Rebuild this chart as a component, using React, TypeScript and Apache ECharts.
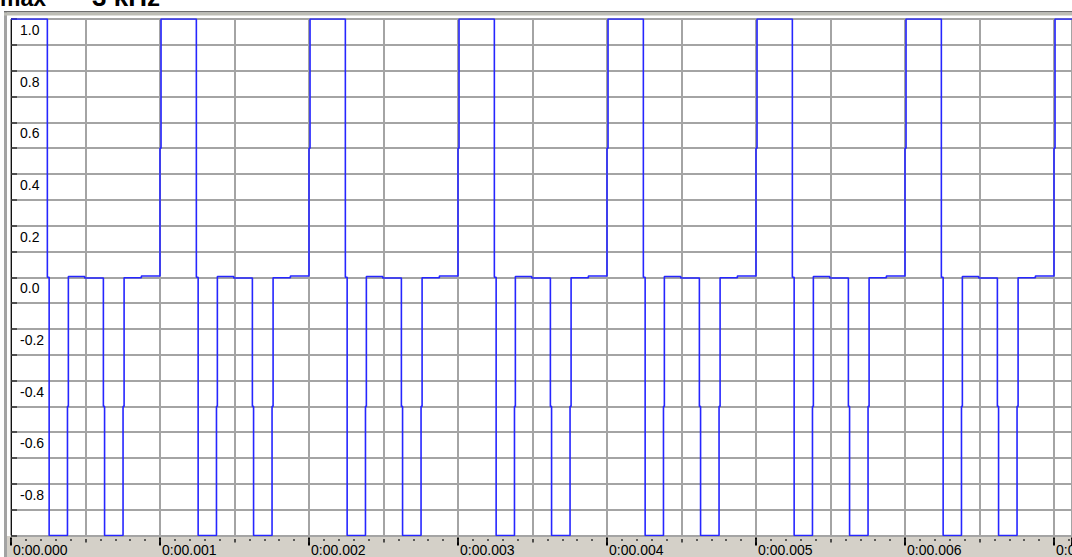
import React, { useEffect, useRef } from "react";
import * as echarts from "echarts";

// Change points of the sampled waveform: from each time (ms) on, the signal holds the level
const edgeTimesMs = [
  0.000, 0.244, 0.256, 0.379, 0.385, 0.495, 0.620, 0.628, 0.752, 0.759, 0.875,
  1.000, 1.007, 1.244, 1.256, 1.379, 1.385, 1.495, 1.620, 1.628, 1.752, 1.759, 1.875,
  2.000, 2.007, 2.244, 2.256, 2.379, 2.385, 2.495, 2.620, 2.628, 2.752, 2.759, 2.875,
  3.000, 3.007, 3.244, 3.256, 3.379, 3.385, 3.495, 3.620, 3.628, 3.752, 3.759, 3.875,
  4.000, 4.007, 4.244, 4.256, 4.379, 4.385, 4.495, 4.620, 4.628, 4.752, 4.759, 4.875,
  5.000, 5.007, 5.244, 5.256, 5.379, 5.385, 5.495, 5.620, 5.628, 5.752, 5.759, 5.875,
  6.000, 6.007, 6.244, 6.256, 6.379, 6.385, 6.495, 6.620, 6.628, 6.752, 6.759, 6.875,
  7.000, 7.007, 7.200,
];
const edgeLevels = [
  1, 0, -1, -0.5, 0.003, -0.003, -0.5, -1, -0.5, -0.002, 0.005,
  0.5, 1, 0, -1, -0.5, 0.003, -0.003, -0.5, -1, -0.5, -0.002, 0.005,
  0.5, 1, 0, -1, -0.5, 0.003, -0.003, -0.5, -1, -0.5, -0.002, 0.005,
  0.5, 1, 0, -1, -0.5, 0.003, -0.003, -0.5, -1, -0.5, -0.002, 0.005,
  0.5, 1, 0, -1, -0.5, 0.003, -0.003, -0.5, -1, -0.5, -0.002, 0.005,
  0.5, 1, 0, -1, -0.5, 0.003, -0.003, -0.5, -1, -0.5, -0.002, 0.005,
  0.5, 1, 0, -1, -0.5, 0.003, -0.003, -0.5, -1, -0.5, -0.002, 0.005,
  0.5, 1, 1,
];

const xTickValuesMs = [0, 1, 2, 3, 4, 5, 6, 7];
const xTickLabels = [
  "0:00.000", "0:00.001", "0:00.002", "0:00.003",
  "0:00.004", "0:00.005", "0:00.006", "0:00.007",
];
const yTickValues = [1.0, 0.8, 0.6, 0.4, 0.2, 0.0, -0.2, -0.4, -0.6, -0.8];
const yTickLabels = ["1.0", "0.8", "0.6", "0.4", "0.2", "0.0", "-0.2", "-0.4", "-0.6", "-0.8"];
const titleParts = ["max", "3 kHz"];

const FONT = "'Liberation Sans', Arial, sans-serif";

function lookup(v: number, values: number[], labels: string[]) {
  for (let i = 0; i < values.length; i++) {
    if (Math.abs(v - values[i]) < 1e-6) return labels[i];
  }
  return "";
}

export default function App() {
  const ref = useRef<HTMLDivElement>(null);

  useEffect(() => {
    if (!ref.current) return;
    const chart = echarts.init(ref.current, undefined, { renderer: "svg" });
    const data = edgeTimesMs.map((t, i) => [t, edgeLevels[i]]);
    const xMax = 1061 / 149;
    const grid = "#a4a4a4";

    chart.setOption({
      animation: false,
      backgroundColor: "#ffffff",
      grid: {
        left: 11,
        right: 0,
        top: 19,
        bottom: 21.5,
        containLabel: false,
        outerBoundsMode: "none",
      },
      xAxis: [
        {
          type: "value",
          min: 0,
          max: xMax,
          interval: 1,
          position: "bottom",
          offset: 2,
          axisLine: { show: false, onZero: false },
          axisTick: { show: true, length: 8, lineStyle: { color: "#000", width: 2 } },
          axisLabel: {
            show: true,
            formatter: (v: number) => lookup(v, xTickValuesMs, xTickLabels),
            align: "left",
            verticalAlign: "top",
            margin: 5.5,
            lineHeight: 14,
            padding: [0, 0, 0, 2],
            fontSize: 14,
            fontFamily: FONT,
            color: "#000",
          },
          splitLine: { show: false },
        },
        {
          type: "value",
          min: 0,
          max: xMax,
          interval: 0.5,
          position: "bottom",
          offset: 3.5,
          axisLine: { show: false, onZero: false },
          axisTick: { show: true, length: 3.5, lineStyle: { color: "#222", width: 1.5 } },
          minorTick: { show: true, splitNumber: 5, length: 2, lineStyle: { color: "#333", width: 1.5 } },
          axisLabel: { show: false },
          splitLine: { show: true, lineStyle: { color: grid, width: 2 } },
        },
      ],
      yAxis: {
        type: "value",
        min: -1,
        max: 1,
        interval: 0.1,
        position: "left",
        axisLine: { show: true, onZero: false, lineStyle: { color: "#000", type: "dotted", width: 1 } },
        axisTick: { show: true, inside: true, length: 6, lineStyle: { color: "#333", width: 1.5 } },
        axisLabel: {
          show: true,
          inside: true,
          showMinLabel: true,
          showMaxLabel: true,
          formatter: (v: number) => lookup(v, yTickValues, yTickLabels),
          margin: 9,
          verticalAlign: "top",
          lineHeight: 22,
          fontSize: 14,
          fontFamily: FONT,
          color: "#000",
        },
        splitLine: { show: true, lineStyle: { color: grid, width: 2 } },
      },
      graphic: [
        { type: "rect", z: -5, shape: { x: 7, y: 536, width: 1065, height: 21 }, style: { fill: "#d4d0c8" } },
        { type: "rect", z: -5, shape: { x: 4, y: 12, width: 3, height: 545 }, style: { fill: "#a3a3a3" } },
        { type: "rect", z: 5, shape: { x: 4, y: 11, width: 1068, height: 1.5 }, style: { fill: "#6e6e6e" } },
        { type: "rect", z: 5, shape: { x: 4, y: 12.5, width: 1068, height: 3 }, style: { fill: "#bdbdb5" } },
        {
          type: "text",
          z: 10,
          x: 0,
          y: -2,
          style: { text: titleParts[0], fontSize: 23, fontWeight: "bold", fontFamily: FONT, fill: "#000", verticalAlign: "middle" },
        },
        {
          type: "text",
          z: 10,
          x: 92,
          y: -3,
          style: { text: titleParts[1], fontSize: 26, fontWeight: "bold", fontFamily: FONT, fill: "#000", verticalAlign: "middle" },
        },
      ],
      series: [
        {
          type: "line",
          xAxisIndex: 0,
          yAxisIndex: 0,
          data,
          step: "end",
          showSymbol: false,
          symbol: "none",
          silent: true,
          z: 3,
          lineStyle: { color: "#2626ff", width: 1.6 },
        },
      ],
    });

    return () => chart.dispose();
  }, []);

  return (
    <div
      ref={ref}
      style={{ position: "fixed", left: 0, top: 0, width: 1072, height: 557, background: "#fff" }}
    />
  );
}
